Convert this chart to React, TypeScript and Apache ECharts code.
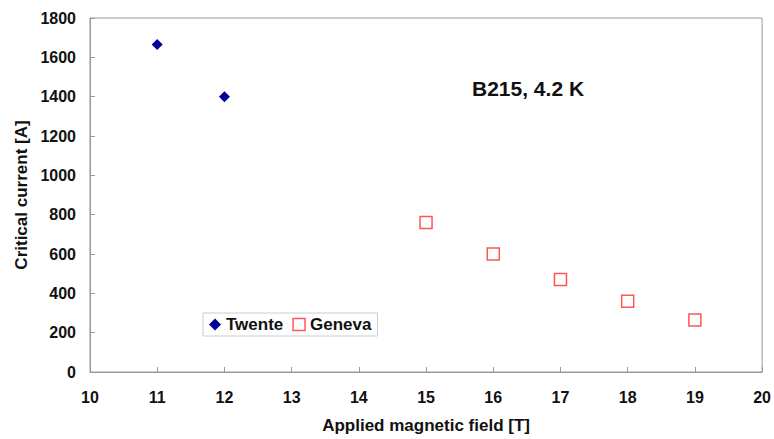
import React, { useEffect, useRef } from "react";
import * as echarts from "echarts";

const twenteField = [11, 12];
const twenteCurrent = [1665, 1400];
const genevaField = [15, 16, 17, 18, 19];
const genevaCurrent = [760, 600, 470, 360, 265];
const annotation = "B215, 4.2 K";

export default function App() {
  const ref = useRef<HTMLDivElement>(null);
  useEffect(() => {
    if (!ref.current) return;
    const chart = echarts.init(ref.current, null, { renderer: "svg" });
    const font = "'Liberation Sans', Arial, sans-serif";
    chart.setOption({
      animation: false,
      backgroundColor: "#fff",
      grid: {
        left: 90,
        right: 8,
        top: 18,
        bottom: 64,
        show: true,
        borderColor: "#999",
        borderWidth: 1,
      },
      xAxis: {
        type: "value",
        min: 10,
        max: 20,
        interval: 1,
        name: "Applied magnetic field [T]",
        nameLocation: "middle",
        nameGap: 45,
        nameTextStyle: { fontFamily: font, fontSize: 17, fontWeight: "bold", color: "#111" },
        axisLine: { lineStyle: { color: "#999" } },
        axisTick: { inside: true, length: 5, lineStyle: { color: "#999" } },
        axisLabel: { fontFamily: font, fontSize: 16, fontWeight: "bold", color: "#111", margin: 17 },
        splitLine: { show: false },
      },
      yAxis: {
        type: "value",
        min: 0,
        max: 1800,
        interval: 200,
        name: "Critical current [A]",
        nameLocation: "middle",
        nameGap: 60,
        nameTextStyle: { fontFamily: font, fontSize: 17, fontWeight: "bold", color: "#111" },
        axisLine: { show: true, lineStyle: { color: "#999" } },
        axisTick: { show: true, inside: true, length: 5, lineStyle: { color: "#999" } },
        axisLabel: {
          fontFamily: font,
          fontSize: 16,
          fontWeight: "bold",
          color: "#111",
          margin: 14,
          formatter: (v: number) => String(v),
        },
        splitLine: { show: false },
      },
      legend: {
        left: 203,
        top: 313,
        orient: "horizontal",
        borderColor: "#ccc",
        borderWidth: 1,
        padding: [3, 6, 3, 6],
        itemGap: 9,
        itemWidth: 12,
        itemHeight: 12,
        textStyle: { fontFamily: font, fontSize: 17, fontWeight: "bold", color: "#111" },
        data: [
          { name: "Twente", icon: "diamond", itemStyle: { color: "#000099", opacity: 1 } },
          { name: "Geneva", icon: "rect", itemStyle: { color: "#fff", borderColor: "#ff5555", borderWidth: 1.5, opacity: 1 } },
        ],
      },
      graphic: [
        {
          type: "text",
          x: 472,
          y: 88,
          style: {
            text: annotation,
            fontFamily: font,
            fontSize: 21,
            fontWeight: "bold",
            fill: "#111",
            verticalAlign: "middle",
          },
        },
      ],
      series: [
        {
          name: "Twente",
          type: "scatter",
          symbol: "diamond",
          symbolSize: 11,
          itemStyle: { color: "#000099", opacity: 1 },
          data: twenteField.map((x, i) => [x, twenteCurrent[i]]),
        },
        {
          name: "Geneva",
          type: "scatter",
          symbol: "rect",
          symbolSize: 12,
          itemStyle: { color: "#fff", borderColor: "#ff5555", borderWidth: 1.5, opacity: 1 },
          data: genevaField.map((x, i) => [x, genevaCurrent[i]]),
        },
      ],
    });
    return () => chart.dispose();
  }, []);
  return (
    <div style={{ position: "fixed", left: 0, top: 0, width: 774, height: 439, overflow: "hidden", background: "#fff" }}>
      <div ref={ref} style={{ width: 774, height: 439, overflow: "hidden" }} />
    </div>
  );
}
